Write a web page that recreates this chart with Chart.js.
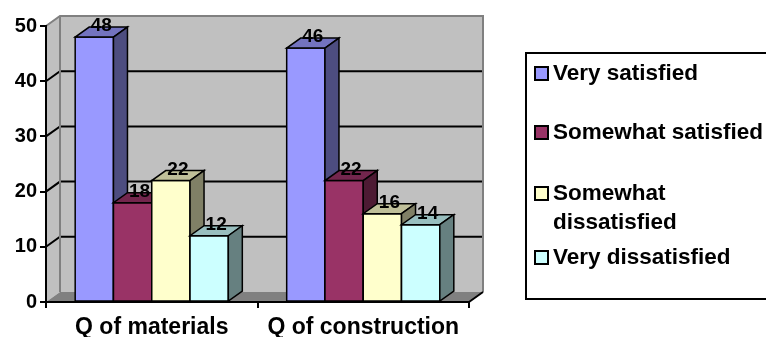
<!DOCTYPE html>
<html>
<head>
<meta charset="utf-8">
<script src="https://cdn.jsdelivr.net/npm/chart.js@4.4.0/dist/chart.umd.min.js"></script>
<style>
  body { margin: 0; background: #fff; overflow: hidden; }
  #wrap { position: relative; width: 766px; height: 337px; }
  #chart { position: absolute; left: 0; top: 0; }
  #legendBox {
    position: absolute; left: 525px; top: 52px; width: 300px; height: 248px;
    border: 2px solid #000; box-sizing: border-box;
  }
  .legend-item {
    position: absolute; left: 553px; max-width: 214px;
    font: bold 22.5px "Liberation Sans", Arial, sans-serif; line-height: 29px; color: #000;
  }
  .legend-swatch {
    position: absolute; left: 534px; width: 11px; height: 11px;
    border: 2px solid #000;
  }
</style>
</head>
<body>
<div id="wrap">
  <canvas id="chart" width="766" height="337"></canvas>
  <div id="legendBox"></div>
</div>
<script>
const categories = ['Q of materials', 'Q of construction'];
const seriesNames = ['Very satisfied', 'Somewhat satisfied', 'Somewhat dissatisfied', 'Very dissatisfied'];
const verySatisfied = [48, 46];
const somewhatSatisfied = [18, 22];
const somewhatDissatisfied = [22, 16];
const veryDissatisfied = [12, 14];
const yTicks = [0, 10, 20, 30, 40, 50];

// front / top / side shades for each series
const frontColors = ['#9999FF', '#993366', '#FFFFCC', '#CCFFFF'];
const topColors = ['#7373BF', '#73264D', '#BFBF99', '#99BFBF'];
const sideColors = ['#4D4D80', '#4D1A33', '#808066', '#668080'];

// depth offset of the 3D box
const DX = 14, DY = -10;
const FONT = '"Liberation Sans", Arial, sans-serif';

// walls, floor and gridlines behind the columns
const wallPlugin = {
  id: 'walls',
  beforeDraw(chart) {
    const ctx = chart.ctx;
    const x = chart.scales.x, y = chart.scales.y;
    const L = x.left, R = x.right;
    const top = y.getPixelForValue(50), bot = y.getPixelForValue(0);
    ctx.save();
    ctx.lineJoin = 'miter';
    // side wall
    ctx.fillStyle = '#C0C0C0';
    ctx.beginPath();
    ctx.moveTo(L, top); ctx.lineTo(L + DX, top + DY);
    ctx.lineTo(L + DX, bot + DY); ctx.lineTo(L, bot);
    ctx.closePath(); ctx.fill();
    // back wall
    ctx.fillRect(L + DX, top + DY, R - L, bot - top);
    // floor
    ctx.fillStyle = '#808080';
    ctx.beginPath();
    ctx.moveTo(L, bot); ctx.lineTo(L + DX, bot + DY);
    ctx.lineTo(R + DX, bot + DY); ctx.lineTo(R, bot);
    ctx.closePath(); ctx.fill();
    // gridlines
    ctx.strokeStyle = '#000';
    ctx.lineWidth = 2;
    yTicks.forEach(v => {
      if (v === 0 || v === 50) return;
      const py = y.getPixelForValue(v);
      ctx.beginPath();
      ctx.moveTo(L, py); ctx.lineTo(L + DX, py + DY); ctx.lineTo(R + DX, py + DY);
      ctx.stroke();
    });
    // wall edges
    ctx.strokeStyle = '#808080';
    ctx.beginPath();
    ctx.moveTo(L, top); ctx.lineTo(L + DX, top + DY); ctx.lineTo(R + DX, top + DY);
    ctx.lineTo(R + DX, bot + DY);
    ctx.moveTo(L + DX, top + DY); ctx.lineTo(L + DX, bot + DY);
    ctx.stroke();
    // floor edge
    ctx.strokeStyle = '#000';
    ctx.beginPath();
    ctx.moveTo(R, bot); ctx.lineTo(R + DX, bot + DY);
    ctx.stroke();
    ctx.restore();
  }
};

// full 3D columns, drawn series by series so later columns cover earlier sides
const columnPlugin = {
  id: 'columns',
  afterDatasetsDraw(chart) {
    const ctx = chart.ctx;
    ctx.save();
    ctx.lineWidth = 1.5;
    ctx.strokeStyle = '#000';
    ctx.lineJoin = 'miter';
    chart.data.datasets.forEach((ds, i) => {
      const meta = chart.getDatasetMeta(i);
      meta.data.forEach((bar, j) => {
        const l = bar.x - bar.width / 2, r = bar.x + bar.width / 2;
        const t = bar.y, b = bar.base;
        // front
        ctx.fillStyle = frontColors[i];
        ctx.beginPath();
        ctx.rect(l, t, r - l, b - t);
        ctx.fill(); ctx.stroke();
        // top
        ctx.fillStyle = topColors[i];
        ctx.beginPath();
        ctx.moveTo(l, t); ctx.lineTo(r, t); ctx.lineTo(r + DX, t + DY); ctx.lineTo(l + DX, t + DY);
        ctx.closePath(); ctx.fill(); ctx.stroke();
        // side
        ctx.fillStyle = sideColors[i];
        ctx.beginPath();
        ctx.moveTo(r, t); ctx.lineTo(r + DX, t + DY); ctx.lineTo(r + DX, b + DY); ctx.lineTo(r, b);
        ctx.closePath(); ctx.fill(); ctx.stroke();
      });
    });
    // value labels
    ctx.fillStyle = '#000';
    ctx.font = 'bold 19px ' + FONT;
    ctx.textAlign = 'center';
    ctx.textBaseline = 'middle';
    chart.data.datasets.forEach((ds, i) => {
      chart.getDatasetMeta(i).data.forEach((bar, j) => {
        ctx.fillText(String(ds.data[j]), bar.x + DX / 2, bar.y + DY - 1);
      });
    });
    ctx.restore();
  }
};

const seriesData = [verySatisfied, somewhatSatisfied, somewhatDissatisfied, veryDissatisfied];

new Chart(document.getElementById('chart'), {
  type: 'bar',
  data: {
    labels: categories,
    datasets: seriesData.map((d, i) => ({
      label: seriesNames[i],
      data: d,
      backgroundColor: frontColors[i],
      borderColor: '#000',
      borderWidth: 0,
      categoryPercentage: 0.724,
      barPercentage: 1
    }))
  },
  options: {
    responsive: false,
    devicePixelRatio: 1,
    animation: false,
    layout: { padding: { left: 0, top: 26, right: 297, bottom: 0 } },
    plugins: { legend: { display: false }, tooltip: { enabled: false } },
    scales: {
      x: {
        grid: { drawOnChartArea: false, color: '#000', lineWidth: 2, tickLength: 6, offset: true },
        border: { color: '#000', width: 2 },
        ticks: { color: '#000', font: { family: FONT, size: 23, weight: 'bold' }, padding: 6, maxRotation: 0 },
        afterFit(scale) { scale.height = 35; }
      },
      y: {
        min: 0, max: 50,
        afterBuildTicks(scale) { scale.ticks = yTicks.map(v => ({ value: v })); },
        grid: { drawOnChartArea: false, color: '#000', lineWidth: 2, tickLength: 6 },
        border: { color: '#000', width: 2 },
        ticks: { color: '#000', font: { family: FONT, size: 20, weight: 'bold' }, padding: 3 },
        afterFit(scale) { scale.width = 46; }
      }
    }
  },
  plugins: [wallPlugin, columnPlugin]
});

// legend box on the right
const legendTops = [58, 117, 178, 242];
const wrap = document.getElementById('wrap');
seriesNames.forEach((name, i) => {
  const sw = document.createElement('div');
  sw.className = 'legend-swatch';
  sw.style.top = (legendTops[i] + 8) + 'px';
  sw.style.background = frontColors[i];
  wrap.appendChild(sw);
  const item = document.createElement('div');
  item.className = 'legend-item';
  item.style.top = legendTops[i] + 'px';
  item.textContent = name;
  wrap.appendChild(item);
});
</script>
</body>
</html>
